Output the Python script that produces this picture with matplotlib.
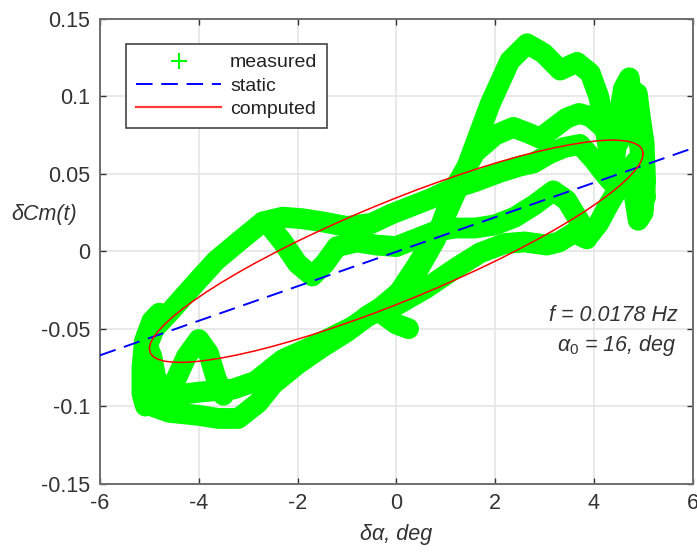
import matplotlib
matplotlib.use("Agg")
import matplotlib.pyplot as plt
from matplotlib.lines import Line2D

plt.rcParams['font.family'] = ['Liberation Sans', 'DejaVu Sans']
plt.rcParams['mathtext.fontset'] = 'custom'
plt.rcParams['mathtext.rm'] = 'Liberation Sans'
plt.rcParams['mathtext.it'] = 'Liberation Sans:italic'

# ---------------- data ----------------
x_ticks = [-6, -4, -2, 0, 2, 4, 6]
y_ticks = [-0.15, -0.1, -0.05, 0, 0.05, 0.1, 0.15]
x_tick_labels = ['-6', '-4', '-2', '0', '2', '4', '6']
y_tick_labels = ['-0.15', '-0.1', '-0.05', '0', '0.05', '0.1', '0.15']

# measured (traced band centre lines)
meas1_x = [-4.95, -4.6, -4.0, -3.6, -3.2, -2.8, -2.5, -2.0, -1.5, -1.0, -0.5, -0.1, 0.4, 0.9, 1.4, 1.9, 2.3, 2.65, 2.98, 3.32, 3.66, 3.93, 4.1, 4.2, 4.3, 4.45]
meas1_y = [-0.100, -0.104, -0.106, -0.108, -0.108, -0.098, -0.086, -0.073, -0.062, -0.052, -0.040, -0.034, -0.010, 0.016, 0.052, 0.095, 0.123, 0.134, 0.128, 0.117, 0.122, 0.115, 0.100, 0.085, 0.065, 0.045]
meas2_x = [-4.9, -4.5, -4.0, -3.3, -2.85, -2.3, -1.6, -0.9, -0.3, 0.3, 0.8, 1.2, 1.6, 2.0, 2.37, 2.7, 2.91, 3.2, 3.45, 3.7, 3.93, 4.19, 4.4]
meas2_y = [-0.087, -0.093, -0.091, -0.089, -0.084, -0.070, -0.060, -0.049, -0.036, -0.020, 0.008, 0.042, 0.064, 0.075, 0.080, 0.076, 0.073, 0.080, 0.086, 0.089, 0.087, 0.080, 0.068]
meas3_x = [-5.05, -4.9, -4.55, -4.05, -3.65, -3.2, -2.7, -2.3, -1.9, -1.5, -1.0, -0.5, -0.1, 0.3, 0.7, 1.1, 1.6, 2.1, 2.5, 2.78, 3.1, 3.4, 3.72, 4.0, 4.27, 4.5]
meas3_y = [-0.062, -0.050, -0.038, -0.020, -0.006, 0.006, 0.019, 0.022, 0.021, 0.019, 0.016, 0.018, 0.024, 0.029, 0.034, 0.040, 0.045, 0.051, 0.055, 0.057, 0.063, 0.067, 0.069, 0.059, 0.048, 0.040]
meas4_x = [-2.6, -2.3, -2.0, -1.7, -1.45, -1.2, -0.8, -0.4, 0.0, 0.4, 0.8, 1.2, 1.6, 2.0, 2.4, 2.8, 3.18, 3.45, 3.7, 3.9, 4.1, 4.3, 4.6, 4.85]
meas4_y = [0.018, 0.006, -0.008, -0.016, -0.008, 0.003, 0.006, 0.004, 0.003, 0.008, 0.013, 0.015, 0.015, 0.017, 0.022, 0.030, 0.039, 0.033, 0.020, 0.010, 0.018, 0.030, 0.046, 0.058]
meas5_x = [-0.6, 0.0, 0.6, 1.2, 1.7, 2.2, 2.6, 3.05, 3.3, 3.6, 3.86]
meas5_y = [-0.042, -0.035, -0.024, -0.011, -0.001, 0.005, 0.006, 0.004, 0.006, 0.012, 0.008]
meas6_x = [4.4, 4.5, 4.6, 4.72, 4.8, 4.88, 4.95, 5.02, 5.05, 5.0, 4.9, 4.8]
meas6_y = [0.050, 0.085, 0.105, 0.112, 0.090, 0.102, 0.085, 0.070, 0.045, 0.025, 0.020, 0.040]
meas7_x = [4.5, 4.62, 4.75, 4.85, 4.95, 5.05]
meas7_y = [0.070, 0.098, 0.075, 0.090, 0.062, 0.035]
meas8_x = [-4.8, -4.95, -5.1, -5.15, -5.15, -5.08, -4.9, -4.85, -4.95, -5.05]
meas8_y = [-0.040, -0.045, -0.058, -0.075, -0.092, -0.100, -0.098, -0.085, -0.068, -0.060]
meas9_x = [-4.7, -4.45, -4.25, -4.0, -3.8, -3.65, -3.5]
meas9_y = [-0.095, -0.082, -0.068, -0.057, -0.066, -0.082, -0.093]
meas10_x = [-0.3, 0.0, 0.25]
meas10_y = [-0.040, -0.047, -0.050]

static_x = [-6, 6]
static_y = [-0.0672, 0.0665]

computed_x = [5.000, 4.981, 4.924, 4.830, 4.698, 4.532, 4.330, 4.096, 3.830, 3.536, 3.214, 2.868,
              2.500, 2.113, 1.710, 1.294, 0.868, 0.436, 0.000, -0.436, -0.868, -1.294, -1.710, -2.113,
              -2.500, -2.868, -3.214, -3.536, -3.830, -4.096, -4.330, -4.532, -4.698, -4.830, -4.924, -4.981,
              -5.000, -4.981, -4.924, -4.830, -4.698, -4.532, -4.330, -4.096, -3.830, -3.536, -3.214, -2.868,
              -2.500, -2.113, -1.710, -1.294, -0.868, -0.436, 0.000, 0.436, 0.868, 1.294, 1.710, 2.113,
              2.500, 2.868, 3.214, 3.536, 3.830, 4.096, 4.330, 4.532, 4.698, 4.830, 4.924, 4.981, 5.000]
computed_y = [0.0630, 0.0657, 0.0680, 0.0697, 0.0710, 0.0716, 0.0718, 0.0714, 0.0704, 0.0689, 0.0669, 0.0644,
              0.0614, 0.0579, 0.0540, 0.0496, 0.0449, 0.0399, 0.0345, 0.0289, 0.0231, 0.0170, 0.0109, 0.0047,
              -0.0016, -0.0078, -0.0140, -0.0201, -0.0260, -0.0318, -0.0373, -0.0425, -0.0474, -0.0519, -0.0560, -0.0597,
              -0.0630, -0.0657, -0.0680, -0.0697, -0.0710, -0.0716, -0.0718, -0.0714, -0.0704, -0.0689, -0.0669, -0.0644,
              -0.0614, -0.0579, -0.0540, -0.0496, -0.0449, -0.0399, -0.0345, -0.0289, -0.0231, -0.0170, -0.0109, -0.0047,
              0.0016, 0.0078, 0.0140, 0.0201, 0.0260, 0.0318, 0.0373, 0.0425, 0.0474, 0.0519, 0.0560, 0.0597, 0.0630]

annot_lines = ['f = 0.0178 Hz', r'$\alpha_0$ = 16, deg']

# ---------------- plot ----------------
fig = plt.figure(figsize=(6.97, 5.54), dpi=100)
ax = fig.add_axes([100 / 697, 70.5 / 554, 592.5 / 697, 464.5 / 554])

green = '#00ff00'
meas = [(meas1_x, meas1_y), (meas2_x, meas2_y), (meas3_x, meas3_y), (meas4_x, meas4_y),
        (meas5_x, meas5_y), (meas6_x, meas6_y), (meas7_x, meas7_y), (meas8_x, meas8_y),
        (meas9_x, meas9_y), (meas10_x, meas10_y)]
for mx, my in meas:
    ax.plot(mx, my, color=green, lw=15, solid_joinstyle='round', solid_capstyle='round', zorder=2)

ax.plot(static_x, static_y, color='#0000ff', lw=1.4, dashes=(8.5, 4.5), zorder=3)
ax.plot(computed_x, computed_y, color='#ff0000', lw=1.1, zorder=4)

ax.set_xlim(-6, 6)
ax.set_ylim(-0.15, 0.15)
ax.set_xticks(x_ticks)
ax.set_xticklabels(x_tick_labels)
ax.set_yticks(y_ticks)
ax.set_yticklabels(y_tick_labels)
ax.grid(True, color='#e3e3e3', lw=1.1, zorder=0)
ax.set_axisbelow(True)
ax.tick_params(direction='in', length=4, width=1.0, color='#333333', labelcolor='#333333',
               labelsize=15.5, top=True, right=True, pad=7)
for sp in ax.spines.values():
    sp.set_color('#6e6e6e')
    sp.set_linewidth(1.4)

ax.set_xlabel('δα, deg', fontsize=15.5, style='italic', color='#333333', labelpad=7)
ax.text(-0.095, 0.58, 'δCm(t)', transform=ax.transAxes, fontsize=15.5, style='italic',
        color='#333333', ha='center', va='center')

ax.text(0.975, 0.361, annot_lines[0], transform=ax.transAxes, fontsize=15.5, style='italic',
        color='#333333', ha='right', va='center')
ax.text(0.972, 0.298, annot_lines[1], transform=ax.transAxes, fontsize=15.5, style='italic',
        color='#333333', ha='right', va='center')

handles = [Line2D([], [], color=green, marker='+', ls='none', markersize=11, mew=1.5),
           Line2D([], [], color='#0000ff', lw=1.4, dashes=(8.5, 4.5)),
           Line2D([], [], color='#ff3b3b', lw=1.6)]
leg = ax.legend(handles, ['measured', 'static', 'computed'], loc='upper left',
                bbox_to_anchor=(0.044, 0.946), borderaxespad=0, fontsize=14, numpoints=1,
                handlelength=4.4, handletextpad=0.45, labelspacing=0.3, borderpad=0.5,
                fancybox=False, framealpha=1, edgecolor='#444444')
leg.get_frame().set_linewidth(1.2)
for t in leg.get_texts():
    t.set_color('#222222')

fig.savefig('out.png', dpi=100)
